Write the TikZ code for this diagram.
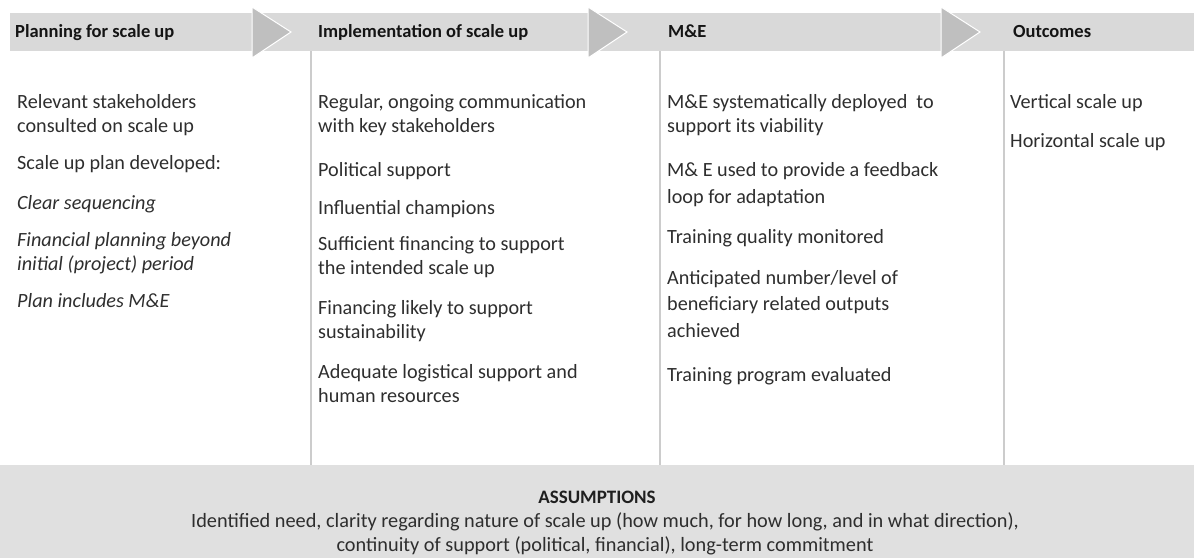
\documentclass[tikz,border=0pt]{standalone}
\usepackage{fontspec}
\setmainfont{Carlito}
\usepackage{tikz}

\tikzset{
  item/.style={anchor=base west, align=left, inner sep=0pt, text=black!82,
    font=\fontsize{20.2}{23.5}\selectfont},
  wide item/.style={item, font=\fontsize{20.2}{26.5}\selectfont},
  head/.style={anchor=base west, inner sep=0pt, text=black!92,
    font=\bfseries\fontsize{18.5}{22}\selectfont},
  chev/.style={fill=black!25, draw=white, line width=1pt},
  sepline/.style={draw=black!20, line width=1.2pt}
}

\begin{document}
\begin{tikzpicture}[x=1pt,y=-1pt]
\useasboundingbox (0,0) rectangle (1194,558);
% header band and chevrons
\fill[black!15] (10,13) rectangle (1194,51);
\foreach \x in {252,588,941} \filldraw[chev] (\x,7) -- (\x+39,32) -- (\x,58) -- cycle;
\foreach \x in {311,660,1004} \draw[sepline] (\x,51) -- (\x,465);
% assumptions box
\fill[black!12] (0,465) rectangle (1194,558);

\node[head] (hplan) at (15,37) {Planning for scale up};
\node[head] (himpl) at (318,37) {Implementation of scale up};
\node[head] (hme) at (668,37) {M\&E};
\node[head] (hout) at (1013,37) {Outcomes};

% planning (y = baseline of last line)
\node[item] (p1) at (17,132) {Relevant stakeholders\\consulted on scale up};
\node[item] (p2) at (17,169) {Scale up plan developed:};
\node[item] (p3) at (17,209) {\itshape Clear sequencing};
\node[item] (p4) at (17,270) {\itshape Financial planning beyond\\\itshape initial (project) period};
\node[item] (p5) at (17,307) {\itshape Plan includes M\&E};

% implementation
\node[item] (i1) at (318,132) {Regular, ongoing communication\\with key stakeholders};
\node[item] (i2) at (318,176) {Political support};
\node[item] (i3) at (318,214) {Influential champions};
\node[item] (i4) at (318,274) {Sufficient financing to support\\the intended scale up};
\node[item] (i5) at (318,338) {Financing likely to support\\sustainability};
\node[item] (i6) at (318,402) {Adequate logistical support and\\human resources};

% monitoring and evaluation
\node[item] (m1) at (667,132) {M\&E systematically deployed\ \ to\\support its viability};
\node[wide item] (m2) at (667,203) {M\& E used to provide a feedback\\loop for adaptation};
\node[item] (m3) at (667,243) {Training quality monitored};
\node[wide item] (m4) at (667,337) {Anticipated number/level of\\beneficiary related outputs\\achieved};
\node[item] (m5) at (667,381) {Training program evaluated};

% outcomes
\node[item] (o1) at (1010,108) {Vertical scale up};
\node[item] (o2) at (1010,147) {Horizontal scale up};

% assumptions
\node[anchor=base, inner sep=0pt, text=black!88, font=\bfseries\fontsize{19}{23}\selectfont]
  (asm) at (597,503) {ASSUMPTIONS};
\node[anchor=base, align=center, inner sep=0pt, text=black!82, font=\fontsize{20.3}{24}\selectfont]
  (asmtext) at (605,551) {Identified need, clarity regarding nature of scale up (how much, for how long, and in what direction),\\
  continuity of support (political, financial), long-term commitment};
\end{tikzpicture}
\end{document}
